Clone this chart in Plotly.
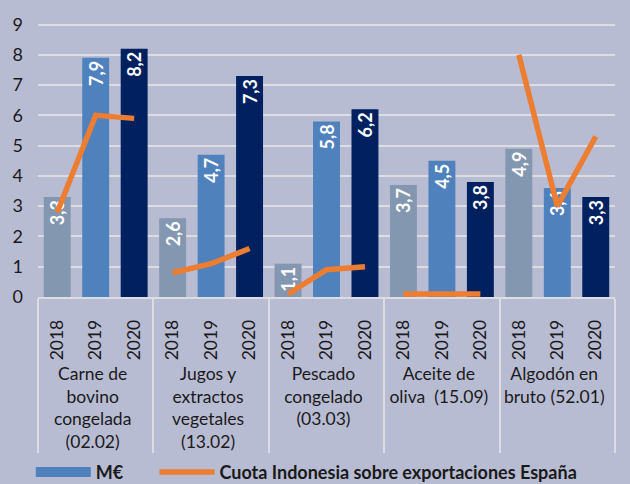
import plotly.graph_objects as go

# ---- data ----
categories = [
    "Carne de<br>bovino<br>congelada<br>(02.02)",
    "Jugos y<br>extractos<br>vegetales<br>(13.02)",
    "Pescado<br>congelado<br>(03.03)",
    "Aceite de<br>oliva  (15.09)",
    "Algodón en<br>bruto (52.01)",
]
years = ["2018", "2019", "2020"]

meur_carne = [3.3, 7.9, 8.2]
meur_jugos = [2.6, 4.7, 7.3]
meur_pescado = [1.1, 5.8, 6.2]
meur_aceite = [3.7, 4.5, 3.8]
meur_algodon = [4.9, 3.6, 3.3]

cuota_carne = [2.8, 6.0, 5.9]
cuota_jugos = [0.8, 1.1, 1.6]
cuota_pescado = [0.1, 0.9, 1.0]
cuota_aceite = [0.1, 0.1, 0.1]
cuota_algodon = [8.0, 3.0, 5.3]

meur_all = [meur_carne, meur_jugos, meur_pescado, meur_aceite, meur_algodon]
cuota_all = [cuota_carne, cuota_jugos, cuota_pescado, cuota_aceite, cuota_algodon]

# ---- styles ----
BG = "#B8BCD2"
YEAR_COLORS = ["#8497B0", "#4F81BD", "#002060"]
ORANGE = "#ED7D31"
FONT = "Lato"
GRID = "#DCDDE3"
NBSP = "\u00a0"

x_outer, x_inner, yvals, colors, texts = [], [], [], [], []
for cat, vals in zip(categories, meur_all):
    for yr, v, c in zip(years, vals, YEAR_COLORS):
        x_outer.append(cat)
        x_inner.append(yr)
        yvals.append(v)
        colors.append(c)
        texts.append(f"{v:.1f}".replace(".", ","))

fig = go.Figure()
fig.add_trace(go.Bar(
    x=[x_outer, x_inner], y=yvals,
    marker=dict(color=colors, line=dict(width=0)),
    text=texts, textposition="inside", insidetextanchor="end",
    textangle=-90, constraintext="none",
    textfont=dict(family=FONT, size=18, color="white", weight="bold"),
    showlegend=False, hoverinfo="skip",
))

# legend proxy for M€
fig.add_trace(go.Scatter(
    x=[None], y=[None], mode="lines", name="M€" + NBSP * 6,
    line=dict(color="#4F81BD", width=10),
))

for i, (cat, vals) in enumerate(zip(categories, cuota_all)):
    fig.add_trace(go.Scatter(
        x=[[cat] * 3, years], y=vals, mode="lines",
        line=dict(color=ORANGE, width=5.5),
        name="Cuota Indonesia sobre exportaciones España",
        legendgroup="cuota", showlegend=(i == 0), hoverinfo="skip",
    ))

fig.update_layout(
    width=630, height=484,
    paper_bgcolor=BG, plot_bgcolor=BG,
    margin=dict(l=38, r=15, t=23, b=187, autoexpand=False),
    barmode="overlay", bargap=0.3,
    font=dict(family=FONT, size=17, color="#1A1A1A"),
    legend=dict(
        orientation="h", x=-0.0125, xanchor="left", y=-0.64, yanchor="middle",
        font=dict(family=FONT, size=18, color="#1A1A1A", weight="bold"),
        itemwidth=55, bgcolor="rgba(0,0,0,0)", traceorder="normal",
    ),
)
fig.update_yaxes(
    range=[0, 9.05], dtick=1, showgrid=True, gridcolor=GRID, gridwidth=1.5,
    zeroline=False, showline=False, ticks="", ticklabelstandoff=14,
    tickfont=dict(family=FONT, size=18, color="#1A1A1A"),
)
fig.update_xaxes(
    type="multicategory", showline=True, linecolor=GRID, linewidth=1.5,
    showdividers=True, dividercolor=GRID, dividerwidth=1.5,
    tickangle=-90, ticks="", ticklabelstandoff=14, automargin=False,
    tickfont=dict(family=FONT, size=17.5, color="#1A1A1A"),
)

fig.write_html(
    "out.html",
    config={"displayModeBar": False},
    post_script="document.body.style.margin='0px';"
                "document.body.style.background='" + BG + "';",
)
